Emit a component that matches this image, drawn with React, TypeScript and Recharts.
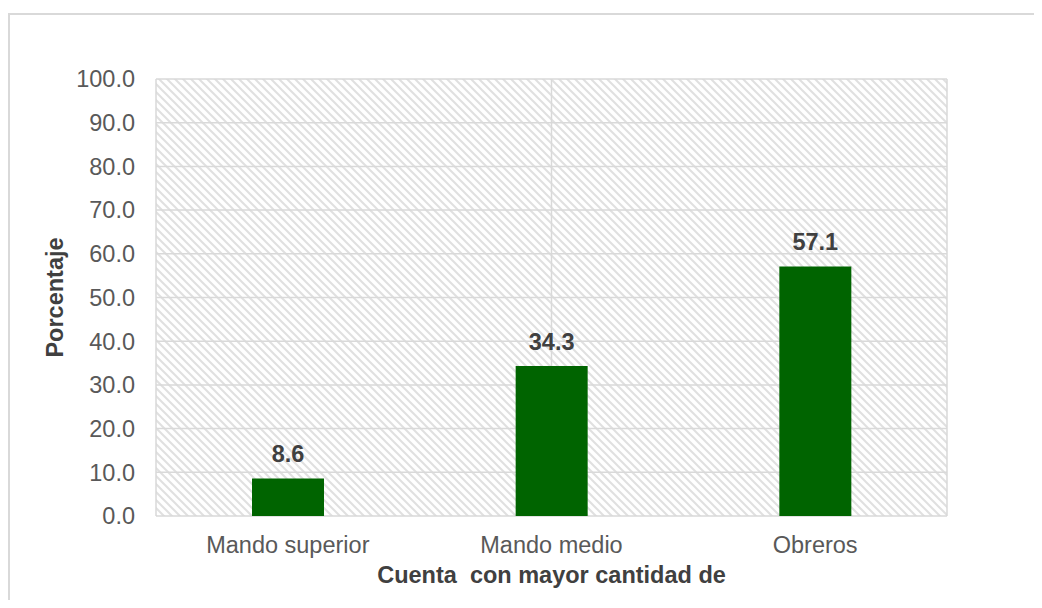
import React from "react";
import {
  BarChart,
  Bar,
  XAxis,
  YAxis,
  CartesianGrid,
  LabelList,
  Label,
} from "recharts";

// Categories and percentages
const categories = ["Mando superior", "Mando medio", "Obreros"];
const percentages = [8.6, 34.3, 57.1];
const yTicks = [0, 10, 20, 30, 40, 50, 60, 70, 80, 90, 100];
const gridSlots = [0, 1, 2, 3];

const xTitle = "Cuenta  con mayor cantidad de";
const yTitle = "Porcentaje";

const data = categories.map((name, i) => ({ name, value: percentages[i] }));

const FONT = "'Liberation Sans', Arial, sans-serif";
const GRID = "#d9d9d9";
const TICK = "#595959";
const DARK = "#404040";
const GREEN = "#006400";

const XTitle = (props: any) => {
  const vb = props.viewBox;
  return (
    <text
      x={vb.x + vb.width / 2}
      y={vb.y + 67}
      textAnchor="middle"
      fontFamily={FONT}
      fontSize={23.5}
      fontWeight="bold"
      fill={DARK}
      style={{ whiteSpace: "pre" }}
    >
      {xTitle}
    </text>
  );
};

const YTitle = (props: any) => {
  const vb = props.viewBox;
  const x = vb.x + 54.5;
  const y = vb.y + vb.height / 2;
  return (
    <text
      x={x}
      y={y}
      transform={`rotate(-90, ${x}, ${y})`}
      textAnchor="middle"
      fontFamily={FONT}
      fontSize={23.5}
      fontWeight="bold"
      fill={DARK}
    >
      {yTitle}
    </text>
  );
};

const W = 1026;
const H = 592;

export default function App() {
  return (
    <div style={{ position: "relative", width: W, height: H }}>
      {/* top edge of the outer frame runs on to the page edge */}
      <div
        style={{
          position: "absolute",
          left: 0,
          top: 5,
          width: W + 8,
          height: 1.5,
          background: GRID,
        }}
      />
      <div
        style={{
          position: "absolute",
          left: 0,
          top: 5,
          width: 1.5,
          height: H - 5,
          background: GRID,
        }}
      />
      <BarChart
        width={W}
        height={H}
        data={data}
        margin={{ top: 71, right: 87, left: 0, bottom: 0 }}
      >
        <defs>
          <pattern
            id="hatch"
            width="8"
            height="8"
            patternUnits="userSpaceOnUse"
          >
            <rect width="8" height="8" fill="#ffffff" />
            <path
              d="M-2,-2 L10,10 M-2,6 L2,10 M6,-2 L10,2"
              stroke="#e0e0e0"
              strokeWidth="2"
            />
          </pattern>
        </defs>
        <CartesianGrid
          xAxisId="slots"
          fill="url(#hatch)"
          stroke={GRID}
          strokeWidth={1.5}
        />
        <XAxis
          dataKey="name"
          tickLine={false}
          axisLine={false}
          tickSize={0}
          tickMargin={20}
          height={84}
          tick={{ fill: TICK, fontSize: 23.5, fontFamily: FONT }}
          interval={0}
        >
          <Label content={<XTitle />} />
        </XAxis>
        <XAxis
          xAxisId="slots"
          type="number"
          domain={[0, 3]}
          ticks={gridSlots}
          hide
        />
        <YAxis
          domain={[0, 100]}
          ticks={yTicks}
          interval={0}
          tickFormatter={(v: number) => v.toFixed(1)}
          tickLine={false}
          axisLine={false}
          tickSize={0}
          tickMargin={21}
          width={148}
          tick={{ fill: TICK, fontSize: 23.5, fontFamily: FONT }}
        >
          <Label content={<YTitle />} />
        </YAxis>
        <Bar
          dataKey="value"
          fill={GREEN}
          barSize={72}
          isAnimationActive={false}
        >
          <LabelList
            dataKey="value"
            position="top"
            offset={16.5}
            formatter={(v: any) => Number(v).toFixed(1)}
            fill={DARK}
            fontSize={23.5}
            fontWeight="bold"
            fontFamily={FONT}
          />
        </Bar>
      </BarChart>
    </div>
  );
}
